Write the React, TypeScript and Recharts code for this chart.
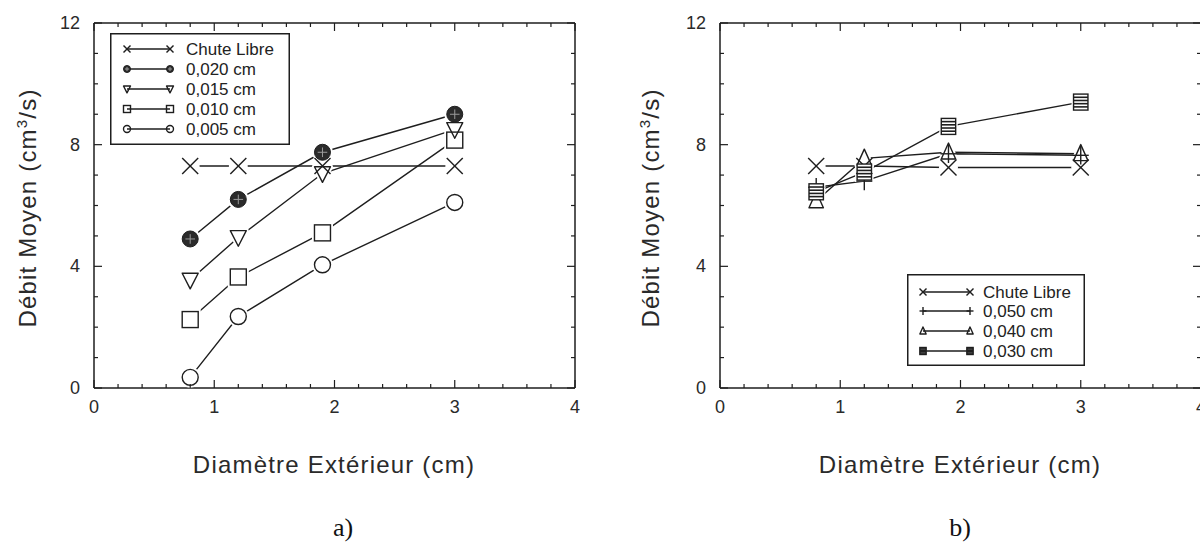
import React from "react";
import { LineChart, Line, XAxis, YAxis } from "recharts";

// outside diameter (cm), shared by both panels
const diameters = [0.8, 1.2, 1.9, 3.0];

// panel a)
const chuteA = [7.3, 7.3, 7.3, 7.3];
const gap020 = [4.9, 6.2, 7.75, 9.0];
const gap015 = [3.55, 4.95, 7.05, 8.5];
const gap010 = [2.25, 3.65, 5.1, 8.15];
const gap005 = [0.35, 2.35, 4.05, 6.1];

// panel b)
const chuteB = [7.3, 7.3, 7.25, 7.25];
const gap050 = [6.6, 6.8, 7.7, 7.65];
const gap040 = [6.15, 7.55, 7.75, 7.7];
const gap030 = [6.45, 7.1, 8.6, 9.4];

const xTicks = [0, 0.2, 0.4, 0.6, 0.8, 1, 1.2, 1.4, 1.6, 1.8, 2, 2.2, 2.4, 2.6, 2.8, 3, 3.2, 3.4, 3.6, 3.8, 4];
const yTicks = [0, 1, 2, 3, 4, 5, 6, 7, 8, 9, 10, 11, 12];

const INK = "#1e1e1e";
const SANS = "'Liberation Sans', Arial, Helvetica, sans-serif";

type Kind = "x" | "filled" | "down" | "square" | "circle" | "plus" | "up" | "striped";

const tableA = diameters.map((d, i) => ({
  d,
  chute: chuteA[i],
  g020: gap020[i],
  g015: gap015[i],
  g010: gap010[i],
  g005: gap005[i],
}));

const tableB = diameters.map((d, i) => ({
  d,
  chute: chuteB[i],
  g050: gap050[i],
  g040: gap040[i],
  g030: gap030[i],
}));

const seriesA: { key: string; label: string; kind: Kind }[] = [
  { key: "chute", label: "Chute Libre", kind: "x" },
  { key: "g020", label: "0,020 cm", kind: "filled" },
  { key: "g015", label: "0,015 cm", kind: "down" },
  { key: "g010", label: "0,010 cm", kind: "square" },
  { key: "g005", label: "0,005 cm", kind: "circle" },
];

const seriesB: { key: string; label: string; kind: Kind }[] = [
  { key: "chute", label: "Chute Libre", kind: "x" },
  { key: "g050", label: "0,050 cm", kind: "plus" },
  { key: "g040", label: "0,040 cm", kind: "up" },
  { key: "g030", label: "0,030 cm", kind: "striped" },
];

function Marker({ kind, cx, cy, s, halo }: { kind: Kind; cx: number; cy: number; s: number; halo?: boolean }) {
  if (cx == null || cy == null) return null;
  const stroke = halo ? "#fff" : INK;
  const sw = halo ? 5 : 1.4;
  const fill = halo ? "#fff" : "none";
  switch (kind) {
    case "x":
      if (halo) return <circle cx={cx} cy={cy} r={s + 1.5} fill="#fff" />;
      return (
        <g stroke={INK} strokeWidth={1.4}>
          <line x1={cx - s} y1={cy - s} x2={cx + s} y2={cy + s} />
          <line x1={cx - s} y1={cy + s} x2={cx + s} y2={cy - s} />
        </g>
      );
    case "filled":
      if (halo) return <circle cx={cx} cy={cy} r={s + 2.5} fill="#fff" />;
      return (
        <g>
          <circle cx={cx} cy={cy} r={s} fill="#2b2b2b" stroke={INK} strokeWidth={1} />
          <line x1={cx - s * 0.6} y1={cy} x2={cx + s * 0.6} y2={cy} stroke="#9a9a9a" strokeWidth={1} />
          <line x1={cx} y1={cy - s * 0.6} x2={cx} y2={cy + s * 0.6} stroke="#9a9a9a" strokeWidth={1} />
        </g>
      );
    case "down":
      return (
        <polygon
          points={`${cx - s},${cy - s * 0.85} ${cx + s},${cy - s * 0.85} ${cx},${cy + s * 1.1}`}
          fill={fill}
          stroke={stroke}
          strokeWidth={sw}
          strokeLinejoin="round"
        />
      );
    case "up":
      return (
        <polygon
          points={`${cx},${cy - s * 1.15} ${cx - s * 0.9},${cy + s * 0.85} ${cx + s * 0.9},${cy + s * 0.85}`}
          fill={fill}
          stroke={stroke}
          strokeWidth={sw}
          strokeLinejoin="round"
        />
      );
    case "square":
      return <rect x={cx - s} y={cy - s} width={2 * s} height={2 * s} fill={fill} stroke={stroke} strokeWidth={sw} />;
    case "circle":
      return <circle cx={cx} cy={cy} r={s} fill={fill} stroke={stroke} strokeWidth={sw} />;
    case "plus":
      if (halo) return null;
      return (
        <g stroke={INK} strokeWidth={1.4}>
          <line x1={cx} y1={cy - s * 1.15} x2={cx} y2={cy + s * 1.15} />
          <line x1={cx - s} y1={cy} x2={cx + s} y2={cy} />
        </g>
      );
    case "striped": {
      const w = s * 0.9;
      const h = s;
      if (halo) return <rect x={cx - w - 2} y={cy - h - 2} width={2 * w + 4} height={2 * h + 4} fill="#fff" />;
      const rows = [-0.6, -0.2, 0.2, 0.6];
      return (
        <g stroke={INK}>
          <rect x={cx - w} y={cy - h} width={2 * w} height={2 * h} fill="#fff" strokeWidth={1.4} />
          {rows.map((r) => (
            <line key={r} x1={cx - w} x2={cx + w} y1={cy + r * h} y2={cy + r * h} strokeWidth={1.6} />
          ))}
        </g>
      );
    }
  }
  return null;
}

function makeTick(side: "bottom" | "top" | "left" | "right") {
  return (props: any) => {
    const { x, y, payload } = props;
    const v = payload.value as number;
    const isX = side === "bottom" || side === "top";
    const major = isX ? Number.isInteger(v) : v % 4 === 0;
    const len = major ? 8 : 4;
    let x2 = x;
    let y2 = y;
    if (side === "bottom") y2 = y - len;
    if (side === "top") y2 = y + len;
    if (side === "left") x2 = x + len;
    if (side === "right") x2 = x - len;
    return (
      <g>
        <line x1={x} y1={y} x2={x2} y2={y2} stroke={INK} strokeWidth={1.2} />
        {side === "bottom" && major && (
          <text x={x} y={y + 19} textAnchor="middle" dominantBaseline="central" fontSize={18} fill="#2a2a2a" fontFamily={SANS}>
            {v}
          </text>
        )}
        {side === "left" && major && (
          <text x={x - 14} y={y} textAnchor="end" dominantBaseline="central" fontSize={18} fill="#2a2a2a" fontFamily={SANS}>
            {v}
          </text>
        )}
      </g>
    );
  };
}

function Panel({
  data,
  series,
  width,
  marginLeft,
  marginRight,
}: {
  data: any[];
  series: { key: string; kind: Kind }[];
  width: number;
  marginLeft: number;
  marginRight: number;
}) {
  const axisLine = { stroke: INK, strokeWidth: 1.5 };
  return (
    <LineChart width={width} height={551} data={data} margin={{ top: 22, right: marginRight - 1, bottom: 162, left: marginLeft - 1 }}>
      <XAxis xAxisId="b" dataKey="d" type="number" domain={[0, 4]} ticks={xTicks} interval={0} height={1} tickSize={0} tickMargin={0} axisLine={axisLine} tickLine={false} tick={makeTick("bottom")} allowDataOverflow />
      <XAxis xAxisId="t" orientation="top" dataKey="d" type="number" domain={[0, 4]} ticks={xTicks} interval={0} height={1} tickSize={0} tickMargin={0} axisLine={axisLine} tickLine={false} tick={makeTick("top")} allowDataOverflow />
      <YAxis yAxisId="l" type="number" domain={[0, 12]} ticks={yTicks} interval={0} width={1} tickSize={0} tickMargin={0} axisLine={axisLine} tickLine={false} tick={makeTick("left")} allowDataOverflow />
      <YAxis yAxisId="r" orientation="right" type="number" domain={[0, 12]} ticks={yTicks} interval={0} width={1} tickSize={0} tickMargin={0} axisLine={axisLine} tickLine={false} tick={makeTick("right")} allowDataOverflow />
      {series.map((s) => (
        <Line key={"line-" + s.key} xAxisId="b" yAxisId="l" dataKey={s.key} type="linear" stroke={INK} strokeWidth={1.4} dot={false} activeDot={false} isAnimationActive={false} />
      ))}
      {series.map((s) => (
        <Line
          key={"halo-" + s.key}
          xAxisId="b"
          yAxisId="l"
          dataKey={s.key}
          type="linear"
          stroke="none"
          activeDot={false}
          isAnimationActive={false}
          dot={(p: any) => <Marker key={"h" + s.key + p.index} kind={s.kind} cx={p.cx} cy={p.cy} s={8} halo />}
        />
      ))}
      {series.map((s) => (
        <Line
          key={"mk-" + s.key}
          xAxisId="b"
          yAxisId="l"
          dataKey={s.key}
          type="linear"
          stroke="none"
          activeDot={false}
          isAnimationActive={false}
          dot={(p: any) => <Marker key={"m" + s.key + p.index} kind={s.kind} cx={p.cx} cy={p.cy} s={8} />}
        />
      ))}
    </LineChart>
  );
}

function LegendBox({
  series,
  left,
  top,
  width,
  rowY,
  x1,
  x2,
  textX,
}: {
  series: { label: string; kind: Kind }[];
  left: number;
  top: number;
  width: number;
  rowY: number[];
  x1: number;
  x2: number;
  textX: number;
}) {
  const height = rowY[rowY.length - 1] + (rowY[1] - rowY[0]) - 4;
  return (
    <svg style={{ position: "absolute", left, top }} width={width} height={height}>
      <rect x={0.75} y={0.75} width={width - 1.5} height={height - 1.5} fill="#fff" stroke={INK} strokeWidth={1.5} />
      {series.map((s, i) => (
        <g key={s.label}>
          <line x1={x1} x2={x2} y1={rowY[i]} y2={rowY[i]} stroke={INK} strokeWidth={1.3} />
          <Marker kind={s.kind} cx={x1} cy={rowY[i]} s={3.5} />
          <Marker kind={s.kind} cx={x2} cy={rowY[i]} s={3.5} />
          <text x={textX} y={rowY[i]} dominantBaseline="central" fontSize={17} fill="#222" fontFamily={SANS}>
            {s.label}
          </text>
        </g>
      ))}
    </svg>
  );
}

const titleStyle: React.CSSProperties = {
  position: "absolute",
  fontFamily: SANS,
  fontSize: 24,
  letterSpacing: 1.2,
  color: "#2a2a2a",
  whiteSpace: "nowrap",
};

function YTitle({ cx, cy }: { cx: number; cy: number }) {
  return (
    <div style={{ ...titleStyle, left: cx, top: cy, transform: "translate(-50%, -50%) rotate(-90deg)" }}>
      Débit Moyen (cm<sup style={{ fontSize: 15 }}>3</sup>/s)
    </div>
  );
}

function XTitle({ cx, cy }: { cx: number; cy: number }) {
  return <div style={{ ...titleStyle, left: cx, top: cy, transform: "translate(-50%, -50%)" }}>Diamètre Extérieur (cm)</div>;
}

function Caption({ cx, cy, text }: { cx: number; cy: number; text: string }) {
  return (
    <div style={{ position: "absolute", left: cx, top: cy, transform: "translate(-50%, -50%)", fontFamily: "'Liberation Serif', 'Times New Roman', serif", fontSize: 26, color: "#111" }}>
      {text}
    </div>
  );
}

export default function App() {
  return (
    <div style={{ position: "fixed", left: 0, top: 0, width: 1200, height: 551, overflow: "hidden", background: "#fff" }}>
      <div style={{ position: "absolute", left: 0, top: 0 }}>
        <Panel data={tableA} series={seriesA} width={600} marginLeft={94} marginRight={25} />
      </div>
      <div style={{ position: "absolute", left: 600, top: 0 }}>
        <Panel data={tableB} series={seriesB} width={620} marginLeft={120} marginRight={19} />
      </div>
      <LegendBox series={seriesA} left={110} top={33} width={180} rowY={[16, 36, 56, 76, 96]} x1={17} x2={60} textX={76} />
      <LegendBox series={seriesB} left={907} top={274} width={178} rowY={[18, 37, 57, 77]} x1={16} x2={63} textX={76} />
      <YTitle cx={27} cy={208} />
      <YTitle cx={650} cy={208} />
      <XTitle cx={334} cy={465} />
      <XTitle cx={960} cy={465} />
      <Caption cx={343} cy={528} text="a)" />
      <Caption cx={960} cy={528} text="b)" />
    </div>
  );
}
